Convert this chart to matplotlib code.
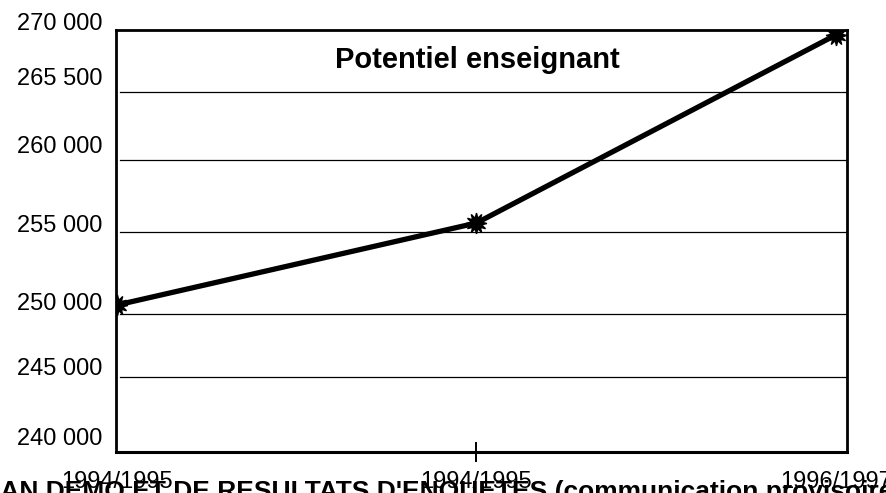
import matplotlib
matplotlib.use("Agg")
import matplotlib.pyplot as plt
import matplotlib.transforms as mtransforms

plt.rcParams['font.family'] = ['Liberation Sans', 'DejaVu Sans']

# data
years = ["1994/1995", "1994/1995", "1996/1997"]
potentiel = [250450, 256280, 269650]

# y labels as printed (they do not sit on the grid lines in the original)
ylabels = ["270 000", "265 500", "260 000", "255 000", "250 000", "245 000", "240 000"]
ylabel_pos = [270460, 266520, 261680, 256070, 250520, 245900, 240920]
grid_levels = [265590, 260760, 255640, 249810, 245330]

fig = plt.figure(figsize=(8.86, 4.93), dpi=100)
ax = fig.add_axes([116/886, 1-452/493, 731/886, 422/493])

x = list(range(len(years)))
ax.plot(x, potentiel, color="black", lw=3.8, solid_capstyle="butt", zorder=3)
# spiky blob markers
ax.plot(x, potentiel, ls="none", marker="o", ms=9, color="black", zorder=4)
ax.plot(x, potentiel, ls="none", marker=(12, 1, 0), ms=15, color="black", zorder=4)

ax.set_ylim(240000, 270000)
ax.set_xlim(-0.003, 2.031)

for g in grid_levels:
    ax.axhline(g, xmin=0.005, xmax=1, color="black", lw=0.9, zorder=1)

for sp in ax.spines.values():
    sp.set_linewidth(2)
ax.spines["bottom"].set_linewidth(2.2)

ax.set_yticks([])
trans = mtransforms.blended_transform_factory(ax.transAxes, ax.transData)
for lab, pos in zip(ylabels, ylabel_pos):
    ax.text(-0.019, pos, lab, transform=trans, ha="right", va="center",
            fontsize=17, clip_on=False)

ax.set_xticks(x)
ax.set_xticklabels(years, fontsize=17)
ax.tick_params(axis="x", direction="inout", length=15, width=1.4, pad=6)
ticks = ax.xaxis.get_major_ticks()
ticks[0].tick1line.set_visible(False)
ticks[-1].tick1line.set_visible(False)

ax.text(0.495, 0.928, "Potentiel enseignant", transform=ax.transAxes,
        ha="center", va="center", fontsize=21, fontweight="bold")

fig.text(-42/886, -0.012, "BILAN DEMO ET DE RESULTATS D'ENQUETES (communication provisoire)",
         ha="left", va="baseline", fontsize=19, fontweight="bold", zorder=0)

fig.savefig("out.png", dpi=100)
